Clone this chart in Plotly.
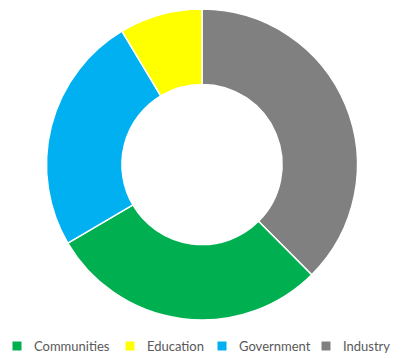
import plotly.graph_objects as go

# Data (clockwise from 12 o'clock)
slice_labels = ["Industry", "Communities", "Government", "Education"]
slice_values = [37.5, 29.0, 24.8, 8.6]
slice_colors = ["#808080", "#00B050", "#00B0F0", "#FFFF00"]

# Legend order
legend_labels = ["Communities", "Education", "Government", "Industry"]
legend_colors = ["#00B050", "#FFFF00", "#00B0F0", "#808080"]
legend_x_px = [17, 130, 222, 326]  # square centre, px

W, H = 401, 358
cx, cy, r = 202, 164.5, 155.5

fig = go.Figure(go.Pie(
    labels=slice_labels, values=slice_values,
    marker=dict(colors=slice_colors, line=dict(color="white", width=1.5)),
    hole=0.515, sort=False, direction="clockwise", rotation=0,
    textinfo="none", hoverinfo="label+value", showlegend=False,
    domain=dict(x=[(cx - r) / W, (cx + r) / W],
                y=[(H - cy - r) / H, (H - cy + r) / H]),
))

shapes, annotations = [], []
ly = 346
sq = 4.5
for lab, col, xp in zip(legend_labels, legend_colors, legend_x_px):
    shapes.append(dict(type="rect", xref="paper", yref="paper",
                       x0=(xp - sq) / W, x1=(xp + sq) / W,
                       y0=(H - ly - sq) / H, y1=(H - ly + sq) / H,
                       fillcolor=col, line=dict(width=0)))
    annotations.append(dict(text=lab, xref="paper", yref="paper",
                            x=(xp + 15) / W, y=(H - ly) / H,
                            xanchor="left", yanchor="middle", showarrow=False,
                            font=dict(family="Lato", size=13, color="#595959")))

fig.update_layout(width=W, height=H, margin=dict(l=0, r=0, t=0, b=0),
                  paper_bgcolor="white", plot_bgcolor="white",
                  shapes=shapes, annotations=annotations)
fig.write_html("out.html")
